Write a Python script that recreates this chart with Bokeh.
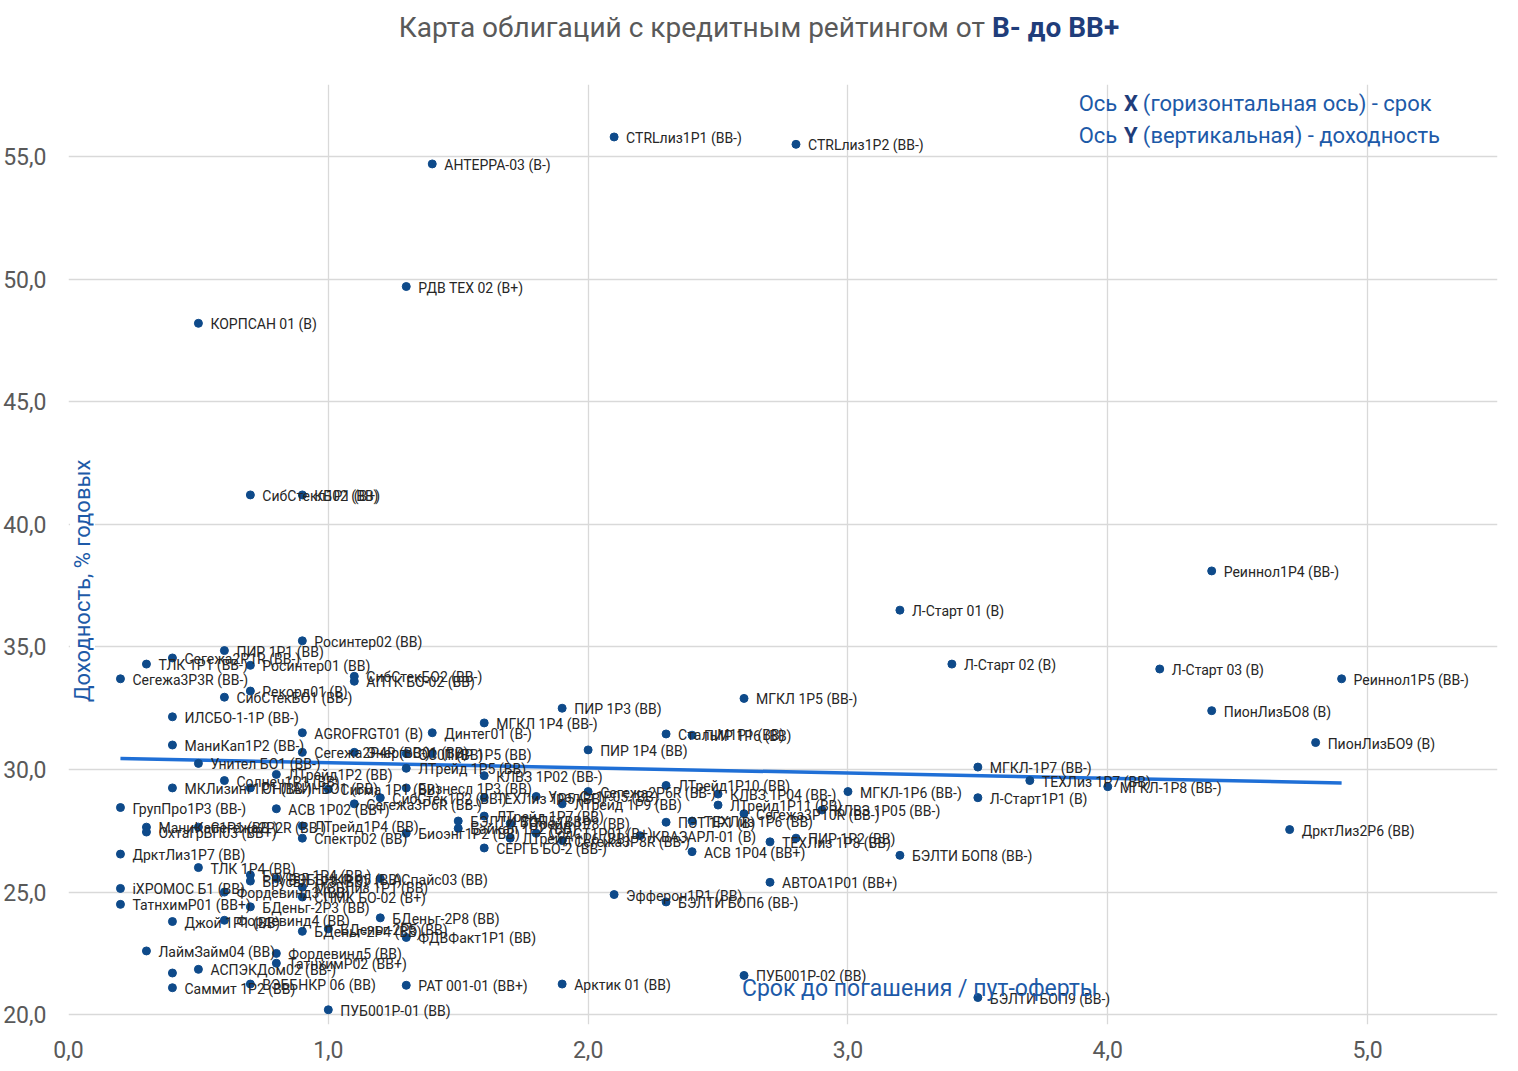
import numpy as np

from bokeh.plotting import figure
from bokeh.layouts import column
from bokeh.models import ColumnDataSource, Range1d, Label, FixedTicker, CustomJSTickFormatter, Div
from bokeh.core.properties import value
from bokeh.embed import file_html
from bokeh.resources import INLINE

# bonds: name (rating), years to maturity / put, yield % p.a.
bond_names = [
    "CTRLлиз1P1 (BB-)", "CTRLлиз1P2 (BB-)", "АНТЕРРА-03 (B-)", "РДВ ТЕХ 02 (B+)", "КОРПСАН 01 (B)",
    "СибСтекл1P1 (B+)", "КБ02 (BB)", "Реиннол1P4 (BB-)", "Л-Старт 01 (B)", "Л-Старт 02 (B)",
    "Л-Старт 03 (B)", "Реиннол1P5 (BB-)", "МГКЛ 1P5 (BB-)", "ПионЛизБО8 (B)", "ПионЛизБО9 (B)",
    "ПИР 1P3 (BB)", "МГКЛ 1P4 (BB-)", "Динтег01 (B-)", "AGROFRGT01 (B)", "СтальМ1P1 (BB)",
    "ПИР 1P6 (BB)", "ПИР 1P4 (BB)", "МГКЛ-1P7 (BB-)", "ТЕХЛиз 1P7 (BB)", "МГКЛ-1P8 (BB-)",
    "МГКЛ-1P6 (BB-)", "Л-Старт1P1 (B)", "ДрктЛиз2P6 (BB)", "БЭЛТИ БОП8 (BB-)", "АВТОА1P01 (BB+)",
    "Эфферон1P1 (BB)", "БЭЛТИ БОП6 (BB-)", "ПУБ001P-02 (BB)", "БЭЛТИ БОП9 (BB-)", "ПУБ001P-01 (BB)",
    "Арктик 01 (BB)", "РАТ 001-01 (BB+)", "ЛТрейд1P10 (BB)", "КЛВЗ 1P04 (BB-)", "ЛТрейд1P11 (BB)",
    "Сегежа3P10R (BB-)", "КЛВЗ 1P05 (BB-)", "ПЭТ 1P1 (B)", "ТЕХЛиз 1P6 (BB)", "КВАЗАРЛ-01 (B)",
    "ТЕХЛиз 1P8 (BB)", "ПИР 1P2 (BB)", "АСВ 1P04 (BB+)", "ТЛК 1P1 (BB-)", "Сегежа3P3R (BB-)",
    "Сегежа2P1R (BB-)", "ПИР 1P1 (BB)", "Росинтер01 (BB)", "Росинтер02 (BB)", "СибСтекБО2 (BB-)",
    "АПТК БО-02 (BB)", "Рекорд01 (B)", "СибСтекБО1 (BB-)", "ИЛСБО-1-1P (BB-)", "МаниКап1P2 (BB-)",
    "Сегежа2P4R (BB-)", "ЭнергоС01 (BB)", "ОС01 (BB)", "ПИР 1P5 (BB)", "Унител БО1 (BB-)",
    "МКЛизинг1P1 (BB-)", "ГрупПро1P3 (BB-)", "АСВ 1P02 (BB+)", "МаниКап1P1 (BB-)", "ОхтаГрБП03 (BB+)",
    "Сегежа2P2R (BB-)", "ЛТрейд1P4 (BB)", "Спектр02 (BB)", "ДрктЛиз1P7 (BB)", "ТЛК 1P4 (BB)",
    "iХРОМОС Б1 (BB)", "ТатнхимP01 (BB+)", "БДеньг-2P3 (BB)", "Джой 1P1 (BB)", "Фордевинд4 (BB)",
    "БДеньг-2P4 (BB)", "БДеньг-2P8 (BB)", "ФДВФакт1P1 (BB)", "БДеньг-2P5 (BB)", "ЛаймЗайм04 (BB)",
    "Фордевинд5 (BB)", "ТатнхимP02 (BB+)", "АСПЭКДом02 (BB-)", "", "Саммит 1P2 (BB)",
    "ВЭББНКР 06 (BB)", "Брусвл 1P4 (BB-)", "Брусвл 1P3 (BB)", "Фордевинд3 (BB)", "АСпайс03 (BB)",
    "СПМК БО-02 (B+)", "МСБЛиз 1P1 (BB)", "ВЭББНКР 05 (BB)", "Солнеч1P1 (BB)", "ОНЛАЙНБО1 (BB)",
    "ЛТрейд1P2 (BB)", "Сигма 1P1 (BB)", "Сегежа3P6R (BB-)", "СибСтек1P2 (BB-)", "ЛТрейд 1P5 (BB)",
    "Бизнесл 1P3 (BB)", "БЭЛТИ БОП5 (BB-)", "Байкал 1P2 (BB)", "КЛВЗ 1P02 (BB-)", "ТЕХЛиз 1P5 (BB)",
    "СЕРГБ БО-2 (BB-)", "УралСт1P05 (BB)", "ЛТрейд 1P9 (BB)", "ЛТрейд 1P7 (BB)", "ЛТрейд 1P8 (BB)",
    "СодСТ1P01 (B+)", "Сегежа3P8R (BB-)", "ЛТрейд 1P6 (BB)", "Биоэнг1P2 (BB)", "Сегежа2P6R (BB-)",
]
maturity_years = [
    2.1, 2.8, 1.4, 1.3, 0.5,
    0.7, 0.9, 4.4, 3.2, 3.4,
    4.2, 4.9, 2.6, 4.4, 4.8,
    1.9, 1.6, 1.4, 0.9, 2.3,
    2.4, 2.0, 3.5, 3.7, 4.0,
    3.0, 3.5, 4.7, 3.2, 2.7,
    2.1, 2.3, 2.6, 3.5, 1.0,
    1.9, 1.3, 2.3, 2.5, 2.5,
    2.6, 2.9, 2.3, 2.4, 2.2,
    2.7, 2.8, 2.4, 0.3, 0.2,
    0.4, 0.6, 0.7, 0.9, 1.1,
    1.1, 0.7, 0.6, 0.4, 0.4,
    0.9, 1.1, 1.3, 1.4, 0.5,
    0.4, 0.2, 0.8, 0.3, 0.3,
    0.5, 0.9, 0.9, 0.2, 0.5,
    0.2, 0.2, 0.7, 0.4, 0.6,
    0.9, 1.2, 1.3, 1.0, 0.3,
    0.8, 0.8, 0.5, 0.4, 0.4,
    0.7, 0.7, 0.7, 0.6, 1.2,
    0.9, 0.9, 0.8, 0.6, 0.7,
    0.8, 1.0, 1.1, 1.2, 1.3,
    1.3, 1.5, 1.5, 1.6, 1.6,
    1.6, 1.8, 1.9, 1.6, 1.7,
    1.8, 1.9, 1.7, 1.3, 2.0,
]
yields = [
    55.8, 55.5, 54.7, 49.7, 48.2,
    41.2, 41.2, 38.1, 36.5, 34.3,
    34.1, 33.7, 32.9, 32.4, 31.1,
    32.5, 31.9, 31.5, 31.5, 31.45,
    31.4, 30.8, 30.1, 29.55, 29.3,
    29.1, 28.85, 27.55, 26.5, 25.4,
    24.9, 24.6, 21.6, 20.7, 20.2,
    21.25, 21.2, 29.35, 29.0, 28.55,
    28.2, 28.35, 27.85, 27.9, 27.3,
    27.05, 27.2, 26.65, 34.3, 33.7,
    34.55, 34.85, 34.25, 35.25, 33.8,
    33.6, 33.2, 32.95, 32.15, 31.0,
    30.7, 30.7, 30.65, 30.65, 30.25,
    29.25, 28.45, 28.4, 27.65, 27.45,
    27.65, 27.7, 27.2, 26.55, 26.0,
    25.15, 24.5, 24.4, 23.8, 23.85,
    23.4, 23.95, 23.15, 23.5, 22.6,
    22.5, 22.1, 21.85, 21.7, 21.1,
    21.25, 25.7, 25.45, 25.0, 25.55,
    24.8, 25.2, 25.55, 29.55, 29.25,
    29.8, 29.2, 28.6, 28.85, 30.05,
    29.25, 27.9, 27.6, 29.75, 28.85,
    26.8, 28.9, 28.6, 28.1, 27.8,
    27.4, 27.1, 27.2, 27.4, 29.1,
]

# linear trend line as drawn on the chart
trend_x = [0.2, 4.9]
trend_y = [30.45, 29.45]

x_ticks = [0, 1, 2, 3, 4, 5]
y_ticks = [20, 25, 30, 35, 40, 45, 50, 55]

src = ColumnDataSource(data=dict(x=maturity_years, y=yields, name=bond_names))

FONT = "Roboto"
BLUE = "#1d5aa8"
NAVY = "#1f3d7a"

title = Div(
    text=('<div style="width:1518px;text-align:center;font-family:Roboto;font-size:28px;'
          'padding-top:8px;white-space:nowrap">'
          '<span style="color:#595959">Карта облигаций с кредитным рейтингом от </span>'
          '<span style="color:%s;font-weight:bold">В- до ВВ+</span></div>' % NAVY),
    width=1518, height=56, margin=0)

# y range goes a bit below 20 so the lowest labels are not cut
p = figure(frame_width=1429, frame_height=940,
           x_range=Range1d(0, 5.5), y_range=Range1d(19.6, 57.94),
           output_backend="svg", toolbar_location=None, margin=0,
           min_border_left=64, min_border_right=15, min_border_top=28, min_border_bottom=44)
p.outline_line_color = None
p.background_fill_color = "white"

p.xaxis.ticker = FixedTicker(ticks=x_ticks)
p.yaxis.ticker = FixedTicker(ticks=y_ticks)
p.xgrid.ticker = FixedTicker(ticks=x_ticks)
p.ygrid.ticker = FixedTicker(ticks=y_ticks)
p.grid.grid_line_color = "#d9d9d9"
p.grid.grid_line_width = 1.3

fmt = CustomJSTickFormatter(code="return tick.toFixed(1).replace('.', ',');")
for ax in (p.xaxis, p.yaxis):
    ax.formatter = fmt
    ax.axis_line_color = None
    ax.major_tick_line_color = None
    ax.minor_tick_line_color = None
    ax.major_label_text_font = FONT
    ax.major_label_text_font_size = "23px"
    ax.major_label_text_color = "#595959"
p.yaxis.major_label_standoff = 16
p.xaxis.major_label_standoff = 10

p.line(trend_x, trend_y, line_color="#1f6fd6", line_width=3.5)

p.scatter("x", "y", source=src, size=8, color="#0e4a8a")
p.text("x", "y", text="name", source=src, text_font=value(FONT), text_font_size="14px",
       text_color="#262626", text_baseline="middle", x_offset=12, y_offset=1)

# axis explanation, top right
for yy, letter, rest in ((57.17, "X", "(горизонтальная ось) - срок"),
                         (55.86, "Y", "(вертикальная) - доходность")):
    p.add_layout(Label(x=3.888, y=yy, text="Ось", text_font=FONT, text_font_size="22px",
                       text_color=BLUE, text_baseline="middle"))
    p.add_layout(Label(x=4.062, y=yy, text=letter, text_font=FONT, text_font_size="22px",
                       text_color=NAVY, text_font_style="bold", text_baseline="middle"))
    p.add_layout(Label(x=4.135, y=yy, text=rest, text_font=FONT, text_font_size="22px",
                       text_color=BLUE, text_baseline="middle"))

# axis titles sit inside the plot area
p.add_layout(Label(x=0.054, y=37.7, text="Доходность, % годовых", angle=np.pi / 2,
                   text_font=FONT, text_font_size="22px", text_color=BLUE,
                   text_align="center", text_baseline="middle",
                   background_fill_color="white"))
p.add_layout(Label(x=2.592, y=21.06, text="Срок до погашения / пут-оферты",
                   text_font=FONT, text_font_size="23px", text_color=BLUE,
                   text_align="left", text_baseline="middle"))

layout = column(title, p, spacing=0)
open("out.html", "w").write(file_html(layout, INLINE))
